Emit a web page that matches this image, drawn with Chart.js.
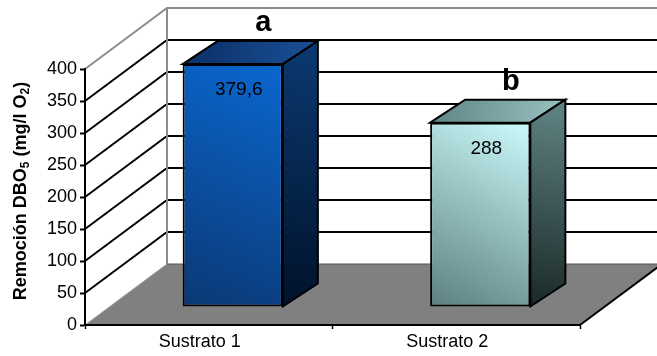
<!DOCTYPE html>
<html>
<head>
<meta charset="utf-8">
<script src="https://cdn.jsdelivr.net/npm/chart.js@4/dist/chart.umd.min.js"></script>
<style>
  html, body { margin: 0; padding: 0; background: #fff; }
  #c { display: block; }
</style>
</head>
<body>
<canvas id="c" width="657" height="356"></canvas>
<script>
// Data
const categories = ['Sustrato 1', 'Sustrato 2'];
const removal = [379.6, 288];          // BOD5 removal, mg/l O2
const groupLetters = ['a', 'b'];       // significance groups
const yMin = 0, yMax = 400, yStep = 50;

// Styling
const FONT = "Arial, 'Liberation Sans', sans-serif";
const WALL = { dx: 82, dy: -61 };        // depth of floor / side wall
const BAR_SHIFT = { dx: 24, dy: -18 };   // bars sit a little behind the front plane
const BAR_DEPTH = { dx: 35, dy: -23 };   // thickness of each bar box
const palettes = [
  { front: ['#0b3874', '#0a67cf'], top: ['#0a2f66', '#1a5098'], side: ['#00122a', '#0b3a72'] },
  { front: ['#5c7f7f', '#cbfbfb'], top: ['#5d8383', '#9cc3c3'], side: ['#1a2828', '#628585'] }
];

function grad(ctx, x0, y0, x1, y1, stops) {
  const g = ctx.createLinearGradient(x0, y0, x1, y1);
  g.addColorStop(0, stops[0]);
  g.addColorStop(1, stops[1]);
  return g;
}

function frontFill(c) {
  const ch = c.chart;
  if (!ch.chartArea) return palettes[c.dataIndex].front[0];
  const xs = ch.scales.x, ys = ch.scales.y;
  const cx = xs.getPixelForValue(c.dataIndex);
  const half = xs.width / categories.length * 0.405 / 2;
  return grad(ch.ctx, cx - half, ys.getPixelForValue(0), cx + half, ys.getPixelForValue(c.raw),
              palettes[c.dataIndex].front);
}

// Back wall, side wall grid and floor
const room = {
  id: 'room',
  beforeDraw(chart) {
    const { ctx, chartArea: a, scales: { y } } = chart;
    ctx.save();
    ctx.fillStyle = '#fff';
    ctx.fillRect(0, 0, chart.width, chart.height);
    const y0 = y.getPixelForValue(yMin);
    const yTop = y.getPixelForValue(yMax);
    const farRight = a.right + WALL.dx;

    // floor
    ctx.beginPath();
    ctx.moveTo(a.left, y0);
    ctx.lineTo(a.right, y0);
    ctx.lineTo(farRight, y0 + WALL.dy);
    ctx.lineTo(a.left + WALL.dx, y0 + WALL.dy);
    ctx.closePath();
    ctx.fillStyle = '#808080';
    ctx.fill();

    // grid lines across side wall and back wall
    y.ticks.forEach(t => {
      if (t.value === yMin || t.value === yMax) return;
      const py = y.getPixelForValue(t.value);
      ctx.strokeStyle = '#000';
      ctx.lineWidth = 2;
      ctx.beginPath();
      ctx.moveTo(a.left, py);
      ctx.lineTo(a.left + WALL.dx, py + WALL.dy);
      ctx.lineTo(farRight, py + WALL.dy);
      ctx.stroke();
    });

    // wall edges
    ctx.strokeStyle = '#8c8c8c';
    ctx.lineWidth = 2;
    ctx.beginPath();
    ctx.moveTo(a.left, yTop);
    ctx.lineTo(a.left + WALL.dx, yTop + WALL.dy);
    ctx.lineTo(farRight, yTop + WALL.dy);
    ctx.moveTo(a.left + WALL.dx, yTop + WALL.dy);
    ctx.lineTo(a.left + WALL.dx, y0 + WALL.dy);
    ctx.stroke();
    ctx.lineWidth = 1;
    ctx.strokeStyle = '#a0a0a0';
    ctx.beginPath();
    ctx.moveTo(a.left, y0);
    ctx.lineTo(a.left + WALL.dx, y0 + WALL.dy);
    ctx.stroke();
    ctx.strokeStyle = '#555';
    ctx.beginPath();
    ctx.moveTo(a.left + WALL.dx, y0 + WALL.dy);
    ctx.lineTo(farRight, y0 + WALL.dy);
    ctx.stroke();
    ctx.strokeStyle = '#000';
    ctx.lineWidth = 2;
    ctx.beginPath();
    ctx.moveTo(a.right, y0);
    ctx.lineTo(farRight, y0 + WALL.dy);
    ctx.stroke();
    ctx.restore();
  },
  beforeDatasetDraw(chart) {
    chart.ctx.save();
    chart.ctx.translate(BAR_SHIFT.dx, BAR_SHIFT.dy);
  },
  afterDatasetDraw(chart, args) {
    const ctx = chart.ctx;
    args.meta.data.forEach((el, i) => {
      const L = el.x - el.width / 2, R = el.x + el.width / 2, T = el.y, B = el.base;
      const p = palettes[i];
      ctx.lineWidth = 2;
      ctx.strokeStyle = '#000';
      ctx.lineJoin = 'miter';
      // top face
      ctx.beginPath();
      ctx.moveTo(L, T);
      ctx.lineTo(L + BAR_DEPTH.dx, T + BAR_DEPTH.dy);
      ctx.lineTo(R + BAR_DEPTH.dx, T + BAR_DEPTH.dy);
      ctx.lineTo(R, T);
      ctx.closePath();
      ctx.fillStyle = grad(ctx, L, T + BAR_DEPTH.dy, R + BAR_DEPTH.dx, T, p.top);
      ctx.fill();
      ctx.stroke();
      // side face
      ctx.beginPath();
      ctx.moveTo(R, T);
      ctx.lineTo(R + BAR_DEPTH.dx, T + BAR_DEPTH.dy);
      ctx.lineTo(R + BAR_DEPTH.dx, B + BAR_DEPTH.dy);
      ctx.lineTo(R, B);
      ctx.closePath();
      ctx.fillStyle = grad(ctx, R, B, R + BAR_DEPTH.dx, T + BAR_DEPTH.dy, p.side);
      ctx.fill();
      ctx.stroke();
    });
    ctx.restore();
  },
  afterDatasetsDraw(chart) {
    const ctx = chart.ctx;
    const meta = chart.getDatasetMeta(0);
    ctx.save();
    ctx.translate(BAR_SHIFT.dx, BAR_SHIFT.dy);
    meta.data.forEach((el, i) => {
      // value inside the bar
      ctx.fillStyle = '#000';
      ctx.textAlign = 'center';
      ctx.textBaseline = 'middle';
      ctx.font = '19px ' + FONT;
      ctx.fillText(String(removal[i]).replace('.', ','), el.x + 6, el.y + 26);
      // group letter above the bar
      ctx.font = 'bold 29px ' + FONT;
      ctx.textBaseline = 'alphabetic';
      ctx.fillText(groupLetters[i], el.x + BAR_DEPTH.dx / 2 + 13, el.y + BAR_DEPTH.dy - 10);
    });
    ctx.restore();
  },
  afterDraw(chart) {
    // y-axis title with subscripts
    const ctx = chart.ctx;
    const parts = [['Remoción DBO', false], ['5', true], [' (mg/l O', false], ['2', true], [')', false]];
    const big = 'bold 18px ' + FONT, small = 'bold 12px ' + FONT;
    ctx.save();
    let total = 0;
    parts.forEach(([s, sub]) => { ctx.font = sub ? small : big; total += ctx.measureText(s).width; });
    ctx.translate(21, 191);
    ctx.rotate(-Math.PI / 2);
    ctx.fillStyle = '#000';
    ctx.textBaseline = 'middle';
    ctx.textAlign = 'left';
    let x = -total / 2;
    parts.forEach(([s, sub]) => {
      ctx.font = sub ? small : big;
      ctx.fillText(s, x, sub ? 5 : 0);
      x += ctx.measureText(s).width;
    });
    ctx.restore();
  }
};

new Chart(document.getElementById('c'), {
  type: 'bar',
  data: {
    labels: categories,
    datasets: [{
      data: removal,
      backgroundColor: frontFill,
      borderColor: '#000',
      borderWidth: 2,
      borderSkipped: false,
      barPercentage: 0.405,
      categoryPercentage: 1,
      clip: false
    }]
  },
  options: {
    responsive: false,
    devicePixelRatio: 1,
    animation: false,
    events: [],
    layout: { padding: { top: 69, right: 77, left: 0, bottom: 0 } },
    plugins: { legend: { display: false }, tooltip: { enabled: false } },
    scales: {
      x: {
        afterFit(scale) { scale.height = 31; },
        grid: { drawOnChartArea: false, drawTicks: true, tickLength: 4, tickColor: '#000', tickWidth: 1.5 },
        border: { display: true, color: '#000', width: 2 },
        ticks: { color: '#000', font: { family: FONT, size: 18 }, padding: 2, labelOffset: -9, maxRotation: 0 }
      },
      y: {
        min: yMin, max: yMax,
        afterFit(scale) { scale.width = 85; },
        grid: { drawOnChartArea: false, drawTicks: true, tickLength: 5, tickColor: '#000', tickWidth: 2 },
        border: { display: true, color: '#000', width: 2 },
        ticks: { stepSize: yStep, color: '#000', font: { family: FONT, size: 18 }, padding: 3 }
      }
    }
  },
  plugins: [room]
});
</script>
</body>
</html>
